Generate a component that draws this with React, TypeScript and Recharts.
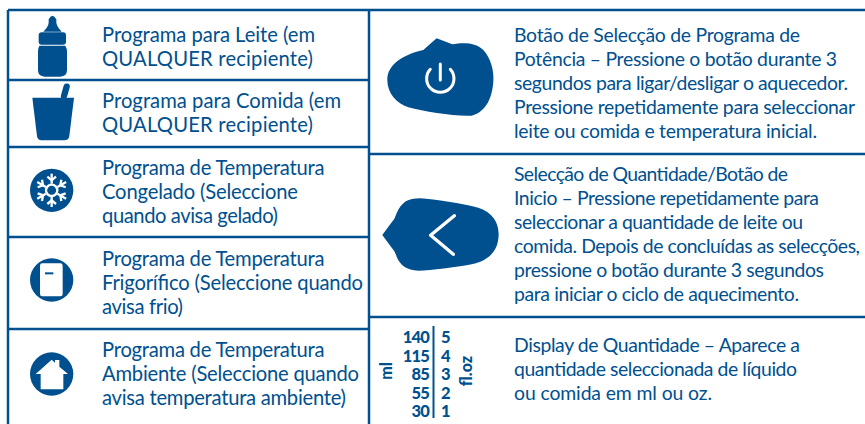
import React from 'react';
import { ScatterChart, Scatter, XAxis, YAxis, ReferenceLine, ReferenceDot } from 'recharts';

const BLUE = '#00508f';
const W = 865;
const H = 424;

const leftRows: string[][] = [
  ['Programa para Leite (em', 'QUALQUER recipiente)'],
  ['Programa para Comida (em', 'QUALQUER recipiente)'],
  ['Programa de Temperatura', 'Congelado (Seleccione', 'quando avisa gelado)'],
  ['Programa de Temperatura', 'Frigorífico (Seleccione quando', 'avisa frio)'],
  ['Programa de Temperatura', 'Ambiente (Seleccione quando', 'avisa temperatura ambiente)'],
];
const rightRows: string[][] = [
  ['Botão de Selecção de Programa de', 'Potência – Pressione o botão durante 3', 'segundos para ligar/desligar o aquecedor.', 'Pressione repetidamente para seleccionar', 'leite ou comida e temperatura inicial.'],
  ['Selecção de Quantidade/Botão de', 'Inicio – Pressione repetidamente para', 'seleccionar a quantidade de leite ou', 'comida. Depois de concluídas as selecções,', 'pressione o botão durante 3 segundos', 'para iniciar o ciclo de aquecimento.'],
  ['Display de Quantidade – Aparece a', 'quantidade seleccionada de líquido', 'ou comida em ml ou oz.'],
];
const mlValues = [140, 115, 85, 55, 30];
const ozValues = [5, 4, 3, 2, 1];

// Layout, kept apart from the text above
const leftEnds = [[315, 313], [341, 313], [324.5, 298, 278], [324.5, 363, 183], [324.5, 359, 346]];
const rightEnds = [[800, 837, 848, 855, 817], [788, 819, 803, 860, 824, 799], [800, 797, 712]];
const leftFirstBaseline = [42, 108, 175, 266, 357];
const rightFirstBaseline = [41.7, 181, 351.7];
const lineStep = 24;
const scaleBaselines = [343, 361.5, 380, 398.5, 417];

const textData = [
  ...leftRows.flatMap((r, i) => r.map((t, j) => ({ x: 102, y: leftFirstBaseline[i] + j * lineStep, t, anchor: 'start', size: 20.2, weight: 400, len: leftEnds[i][j] - 102 }))),
  ...rightRows.flatMap((r, i) => r.map((t, j) => ({ x: 514, y: rightFirstBaseline[i] + j * lineStep, t, anchor: 'start', size: 19.4, weight: 400, len: rightEnds[i][j] - 514 }))),
  ...mlValues.map((v, i) => ({ x: 429, y: scaleBaselines[i], t: String(v), anchor: 'end', size: 16.5, weight: 900, spacing: -0.8 })),
  ...ozValues.map((v, i) => ({ x: 441, y: scaleBaselines[i], t: String(v), anchor: 'start', size: 16.5, weight: 900, spacing: 0 })),
];

const hLines = [
  [8, 865, 10], [8, 369, 80], [8, 369, 147], [8, 369, 237], [8, 369, 329],
  [369, 865, 154], [369, 865, 317],
];
const vLines = [
  [8, 10, 424], [369, 10, 424],
];

const TextMark = (p: any) => {
  const d = p.payload;
  return (
    <text x={p.cx} y={p.cy} textAnchor={d.anchor} fontSize={d.size} fontWeight={d.weight} fontFamily="Lato" fill={BLUE}
      letterSpacing={d.spacing}
      {...(d.len ? { textLength: d.len, lengthAdjust: 'spacing' } : {})}>
      {d.t}
    </text>
  );
};

// Icon artwork is authored in 3x units, then scaled down around its own origin.
const icon = (ox: number, oy: number, children: React.ReactNode) => (p: any) => (
  <g transform={`translate(${p.cx - ox / 3},${p.cy - oy / 3}) scale(${1 / 3})`}>{children}</g>
);

const Bottle = icon(157, 135, (
  <g fill={BLUE}>
    <path d="M146,58 Q157,36 169,58 L169,68 Q171,80 185,95 L130,95 Q145,80 146,68 Z" />
    <rect x="116" y="97" width="82" height="37" rx="9" />
    <path d="M118,137 L196,137 Q201,145 201,155 L201,210 Q201,229 181,230 L134,230 Q114,229 114,210 L114,155 Q114,145 118,137 Z" />
  </g>
));
const Cup = icon(160, 340, (
  <g>
    <path d="M200,260 L192,288" stroke={BLUE} strokeWidth="19" strokeLinecap="round" />
    <path d="M97,293 L222,293 L208,408 Q206,421 193,421 L125,421 Q113,421 111,408 Z" fill={BLUE} />
  </g>
));
const angles = [0, 60, 120, 180, 240, 300];
const Snow = icon(155, 571, (
  <g>
    <circle cx="155" cy="571" r="65" fill={BLUE} />
    {angles.map((a) => (
      <g key={a} transform={`rotate(${a} 155 571)`} stroke="#fff" strokeWidth="7" fill="none">
        <path d="M155,551 L155,521" />
        <path d="M142,530 L155,541 L168,530" />
      </g>
    ))}
    <circle cx="155" cy="571" r="17" fill="none" stroke="#fff" strokeWidth="7" />
    <circle cx="155" cy="571" r="9" fill={BLUE} />
  </g>
));
const Fridge = icon(155, 210, (
  <g>
    <circle cx="155" cy="210" r="65" fill={BLUE} />
    <rect x="120" y="160" width="68" height="99" rx="7" fill="#fff" />
    <path d="M135,190 L160,190" stroke={BLUE} strokeWidth="6" />
  </g>
));
const House = icon(155, 492, (
  <g>
    <circle cx="155" cy="492" r="65" fill={BLUE} />
    <path d="M107,492 L155,449 L165,458 L165,450 L178,450 L178,470 L204,492 L190,492 L190,538 L122,538 L122,492 Z" fill="#fff" />
  </g>
));
const PowerKey = icon(226, 241, (
  <g>
    <path d="M175,150 L215,115 L262,133 C290,128 330,125 355,150 C378,175 388,215 385,245 C382,290 365,335 320,347 C270,350 180,335 130,322 C95,310 67,280 67,240 C67,195 110,165 175,150 Z" fill={BLUE} />
    <path d="M196,208 A41,41 0 1 0 256,208" fill="none" stroke="#fff" strokeWidth="9" strokeLinecap="round" />
    <path d="M226,192 L226,240" fill="none" stroke="#fff" strokeWidth="9" strokeLinecap="round" />
  </g>
));
const StartKey = icon(226, 225, (
  <g>
    <path d="M52,225 L78,190 Q90,178 95,160 C110,125 130,115 165,115 C210,118 290,130 340,143 C385,158 402,190 401,225 C400,265 380,300 320,313 C270,322 200,332 160,332 C125,330 105,315 95,290 Q90,272 78,260 Z" fill={BLUE} />
    <path d="M268,167 L197,226 L265,283" fill="none" stroke="#fff" strokeWidth="10" strokeLinecap="round" strokeLinejoin="round" />
  </g>
));

const RotText = (label: string) => (p: any) => (
  <text transform={`translate(${p.cx},${p.cy}) rotate(-90)`} textAnchor="middle" fontSize={16} fontWeight={900} fontFamily="Lato" fill={BLUE}>
    {label}
  </text>
);

export default function App() {
  return (
    <div style={{ position: 'absolute', left: 0, top: 0, width: W, height: H, background: '#fff' }}>
      <ScatterChart width={W} height={H} margin={{ top: 0, right: 0, bottom: 0, left: 0 }}>
        <XAxis type="number" dataKey="x" domain={[0, W]} hide />
        <YAxis type="number" dataKey="y" domain={[0, H]} reversed hide />
        {hLines.map(([a, b, y]) => (
          <ReferenceLine key={`h${a}-${y}`} segment={[{ x: a, y }, { x: b, y }]} stroke={BLUE} strokeWidth={2.5} ifOverflow="visible" />
        ))}
        {vLines.map(([x, a, b]) => (
          <ReferenceLine key={`v${x}`} segment={[{ x, y: a }, { x, y: b }]} stroke={BLUE} strokeWidth={2.5} ifOverflow="visible" />
        ))}
        <ReferenceLine segment={[{ x: 433.5, y: 326 }, { x: 433.5, y: 418 }]} stroke={BLUE} strokeWidth={2} ifOverflow="visible" />
        <ReferenceDot x={157 / 3} y={45} r={1} shape={Bottle} ifOverflow="visible" />
        <ReferenceDot x={160 / 3} y={340 / 3} r={1} shape={Cup} ifOverflow="visible" />
        <ReferenceDot x={155 / 3} y={571 / 3} r={1} shape={Snow} ifOverflow="visible" />
        <ReferenceDot x={155 / 3} y={280} r={1} shape={Fridge} ifOverflow="visible" />
        <ReferenceDot x={155 / 3} y={374} r={1} shape={House} ifOverflow="visible" />
        <ReferenceDot x={440.3} y={80.3} r={1} shape={PowerKey} ifOverflow="visible" />
        <ReferenceDot x={440.3} y={235} r={1} shape={StartKey} ifOverflow="visible" />
        <ReferenceDot x={392} y={371} r={1} shape={RotText('ml')} ifOverflow="visible" />
        <ReferenceDot x={472} y={371} r={1} shape={RotText('fl.oz')} ifOverflow="visible" />
        <Scatter data={textData} shape={TextMark} isAnimationActive={false} />
      </ScatterChart>
    </div>
  );
}
